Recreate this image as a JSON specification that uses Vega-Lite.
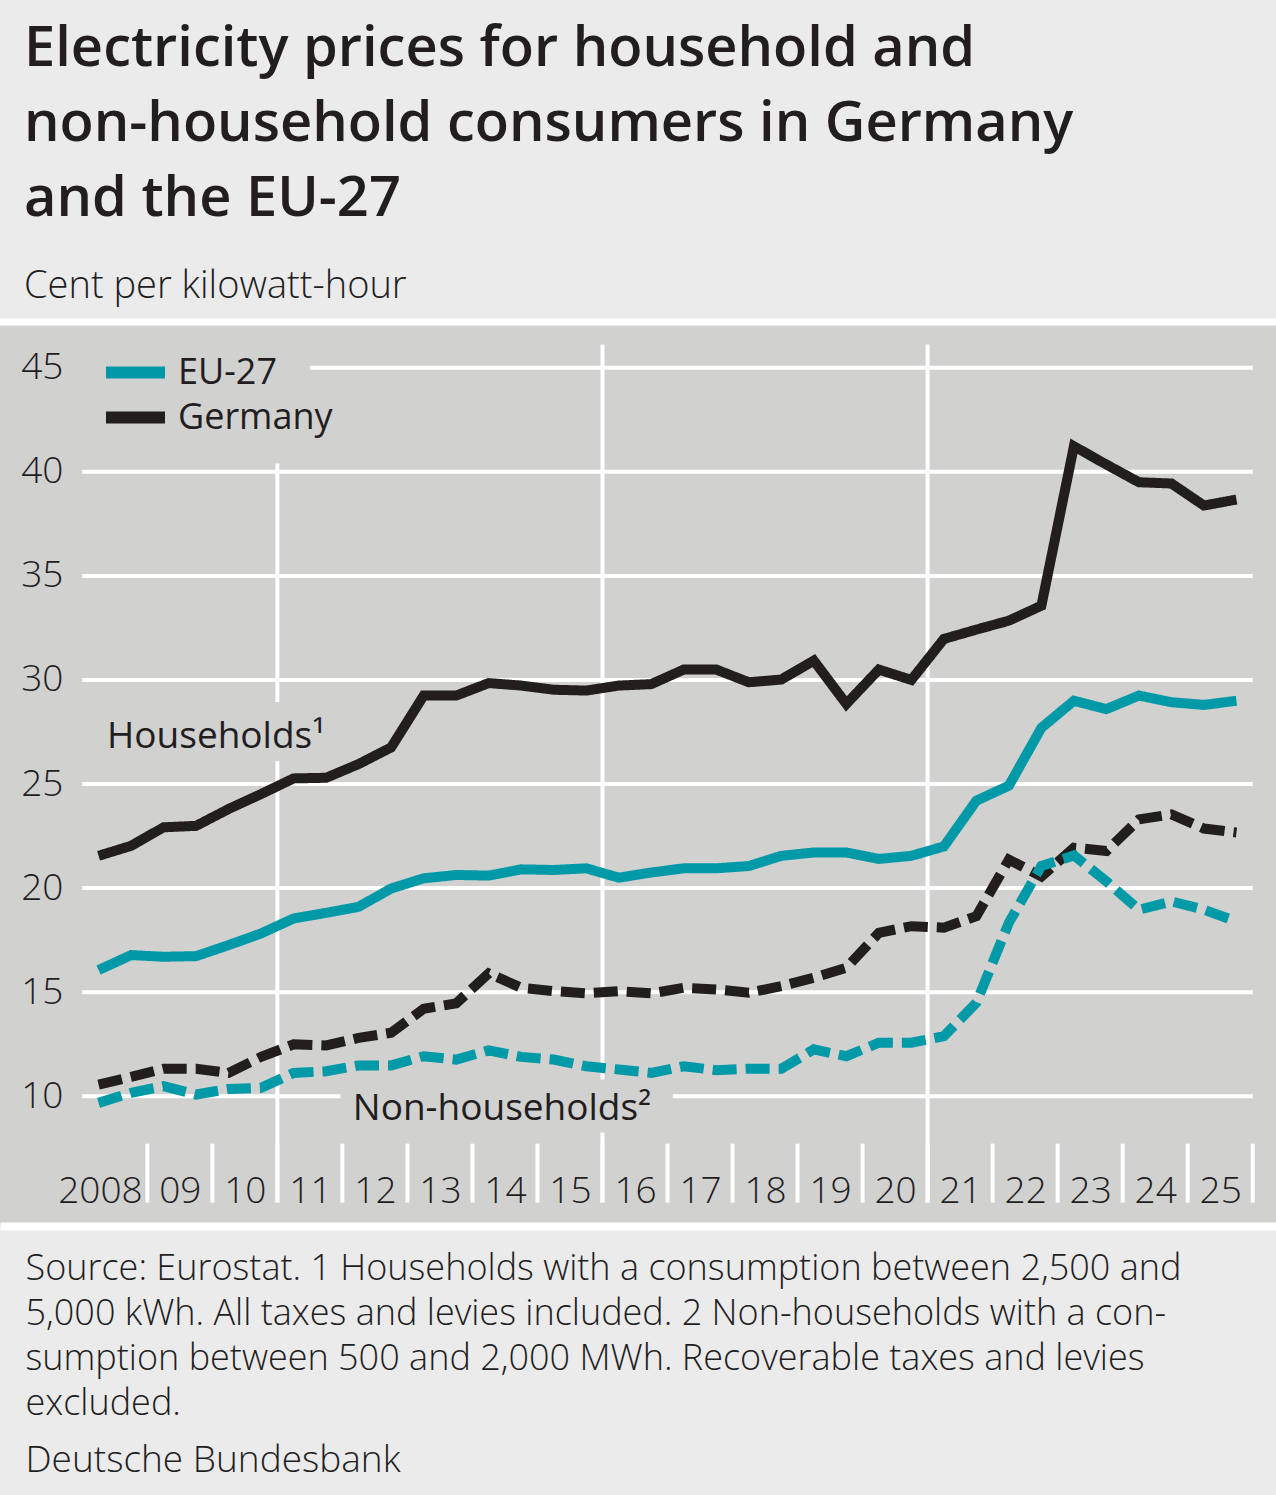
{
  "$schema": "https://vega.github.io/schema/vega-lite/v6.json",
  "width": 1276,
  "height": 904,
  "autosize": {"type": "none"},
  "padding": {"left": 0, "top": 322, "right": 0, "bottom": 269},
  "background": "#ebebeb",
  "config": {
    "view": {"fill": "#d1d1d0", "stroke": null},
    "font": "Open Sans"
  },
  "title": {
    "text": ["Electricity prices for household and", "non-household consumers in Germany", "and the EU-27"],
    "subtitle": "Cent per kilowatt-hour",
    "anchor": "start",
    "frame": "group",
    "dx": 24,
    "offset": 12,
    "fontSize": 56,
    "fontWeight": 600,
    "lineHeight": 75,
    "color": "#221e1f",
    "subtitleFontSize": 38,
    "subtitleFontWeight": 300,
    "subtitleColor": "#221e1f",
    "subtitlePadding": 40
  },
  "datasets": {
    "prices": [
      {"t": 2008.25, "region": "Germany", "Households": 21.55, "Non-households": 10.56},
      {"t": 2008.75, "region": "Germany", "Households": 22.03, "Non-households": 10.93},
      {"t": 2009.25, "region": "Germany", "Households": 22.92, "Non-households": 11.32},
      {"t": 2009.75, "region": "Germany", "Households": 22.99, "Non-households": 11.32},
      {"t": 2010.25, "region": "Germany", "Households": 23.8, "Non-households": 11.12},
      {"t": 2010.75, "region": "Germany", "Households": 24.52, "Non-households": 11.89},
      {"t": 2011.25, "region": "Germany", "Households": 25.27, "Non-households": 12.49},
      {"t": 2011.75, "region": "Germany", "Households": 25.3, "Non-households": 12.44},
      {"t": 2012.25, "region": "Germany", "Households": 25.96, "Non-households": 12.8},
      {"t": 2012.75, "region": "Germany", "Households": 26.76, "Non-households": 13.05},
      {"t": 2013.25, "region": "Germany", "Households": 29.25, "Non-households": 14.2},
      {"t": 2013.75, "region": "Germany", "Households": 29.25, "Non-households": 14.46},
      {"t": 2014.25, "region": "Germany", "Households": 29.85, "Non-households": 15.9},
      {"t": 2014.75, "region": "Germany", "Households": 29.73, "Non-households": 15.21},
      {"t": 2015.25, "region": "Germany", "Households": 29.53, "Non-households": 15.05},
      {"t": 2015.75, "region": "Germany", "Households": 29.49, "Non-households": 14.94},
      {"t": 2016.25, "region": "Germany", "Households": 29.73, "Non-households": 15.05},
      {"t": 2016.75, "region": "Germany", "Households": 29.8, "Non-households": 14.94},
      {"t": 2017.25, "region": "Germany", "Households": 30.5, "Non-households": 15.21},
      {"t": 2017.75, "region": "Germany", "Households": 30.5, "Non-households": 15.13},
      {"t": 2018.25, "region": "Germany", "Households": 29.89, "Non-households": 14.97},
      {"t": 2018.75, "region": "Germany", "Households": 30.02, "Non-households": 15.29},
      {"t": 2019.25, "region": "Germany", "Households": 30.93, "Non-households": 15.69},
      {"t": 2019.75, "region": "Germany", "Households": 28.85, "Non-households": 16.17},
      {"t": 2020.25, "region": "Germany", "Households": 30.5, "Non-households": 17.85},
      {"t": 2020.75, "region": "Germany", "Households": 30.0, "Non-households": 18.17},
      {"t": 2021.25, "region": "Germany", "Households": 31.97, "Non-households": 18.1},
      {"t": 2021.75, "region": "Germany", "Households": 32.42, "Non-households": 18.65},
      {"t": 2022.25, "region": "Germany", "Households": 32.85, "Non-households": 21.37},
      {"t": 2022.75, "region": "Germany", "Households": 33.57, "Non-households": 20.56},
      {"t": 2023.25, "region": "Germany", "Households": 41.23, "Non-households": 21.94},
      {"t": 2023.75, "region": "Germany", "Households": 40.35, "Non-households": 21.78},
      {"t": 2024.25, "region": "Germany", "Households": 39.5, "Non-households": 23.3},
      {"t": 2024.75, "region": "Germany", "Households": 39.44, "Non-households": 23.54},
      {"t": 2025.25, "region": "Germany", "Households": 38.38, "Non-households": 22.86},
      {"t": 2025.75, "region": "Germany", "Households": 38.67, "Non-households": 22.67},
      {"t": 2008.25, "region": "EU-27", "Households": 16.06, "Non-households": 9.68},
      {"t": 2008.75, "region": "EU-27", "Households": 16.78, "Non-households": 10.16},
      {"t": 2009.25, "region": "EU-27", "Households": 16.7, "Non-households": 10.48},
      {"t": 2009.75, "region": "EU-27", "Households": 16.73, "Non-households": 10.08},
      {"t": 2010.25, "region": "EU-27", "Households": 17.26, "Non-households": 10.35},
      {"t": 2010.75, "region": "EU-27", "Households": 17.82, "Non-households": 10.4},
      {"t": 2011.25, "region": "EU-27", "Households": 18.54, "Non-households": 11.12},
      {"t": 2011.75, "region": "EU-27", "Households": 18.81, "Non-households": 11.2},
      {"t": 2012.25, "region": "EU-27", "Households": 19.1, "Non-households": 11.48},
      {"t": 2012.75, "region": "EU-27", "Households": 19.98, "Non-households": 11.48},
      {"t": 2013.25, "region": "EU-27", "Households": 20.47, "Non-households": 11.92},
      {"t": 2013.75, "region": "EU-27", "Households": 20.63, "Non-households": 11.76},
      {"t": 2014.25, "region": "EU-27", "Households": 20.6, "Non-households": 12.2},
      {"t": 2014.75, "region": "EU-27", "Households": 20.9, "Non-households": 11.89},
      {"t": 2015.25, "region": "EU-27", "Households": 20.87, "Non-households": 11.76},
      {"t": 2015.75, "region": "EU-27", "Households": 20.95, "Non-households": 11.44},
      {"t": 2016.25, "region": "EU-27", "Households": 20.5, "Non-households": 11.28},
      {"t": 2016.75, "region": "EU-27", "Households": 20.75, "Non-households": 11.12},
      {"t": 2017.25, "region": "EU-27", "Households": 20.95, "Non-households": 11.44},
      {"t": 2017.75, "region": "EU-27", "Households": 20.95, "Non-households": 11.25},
      {"t": 2018.25, "region": "EU-27", "Households": 21.06, "Non-households": 11.32},
      {"t": 2018.75, "region": "EU-27", "Households": 21.55, "Non-households": 11.32},
      {"t": 2019.25, "region": "EU-27", "Households": 21.71, "Non-households": 12.25},
      {"t": 2019.75, "region": "EU-27", "Households": 21.71, "Non-households": 11.92},
      {"t": 2020.25, "region": "EU-27", "Households": 21.4, "Non-households": 12.57},
      {"t": 2020.75, "region": "EU-27", "Households": 21.55, "Non-households": 12.57},
      {"t": 2021.25, "region": "EU-27", "Households": 22.0, "Non-households": 12.88},
      {"t": 2021.75, "region": "EU-27", "Households": 24.2, "Non-households": 14.49},
      {"t": 2022.25, "region": "EU-27", "Households": 24.92, "Non-households": 18.34},
      {"t": 2022.75, "region": "EU-27", "Households": 27.7, "Non-households": 21.06},
      {"t": 2023.25, "region": "EU-27", "Households": 29.0, "Non-households": 21.57},
      {"t": 2023.75, "region": "EU-27", "Households": 28.6, "Non-households": 20.32},
      {"t": 2024.25, "region": "EU-27", "Households": 29.25, "Non-households": 18.96},
      {"t": 2024.75, "region": "EU-27", "Households": 28.93, "Non-households": 19.36},
      {"t": 2025.25, "region": "EU-27", "Households": 28.8, "Non-households": 18.96},
      {"t": 2025.75, "region": "EU-27", "Households": 29.0, "Non-households": 18.4}
    ],
    "grid": [{"v": 10}, {"v": 15}, {"v": 20}, {"v": 25}, {"v": 30}, {"v": 35}, {"v": 40}],
    "yearEnds": [
      {"year": 2009}, {"year": 2010}, {"year": 2011}, {"year": 2012}, {"year": 2013}, {"year": 2014},
      {"year": 2015}, {"year": 2016}, {"year": 2017}, {"year": 2018}, {"year": 2019}, {"year": 2020},
      {"year": 2021}, {"year": 2022}, {"year": 2023}, {"year": 2024}, {"year": 2025}, {"year": 2026}
    ]
  },
  "data": {"name": "prices"},
  "layer": [
    {
      "data": {"name": "grid"},
      "mark": {"type": "rule", "color": "white", "strokeWidth": 4},
      "encoding": {
        "y": {"field": "v", "type": "quantitative"},
        "x": {"datum": 2008, "type": "quantitative"},
        "x2": {"datum": 2026}
      }
    },
    {
      "data": {"values": [{"v": 45}]},
      "mark": {"type": "rule", "color": "white", "strokeWidth": 4},
      "encoding": {
        "y": {"field": "v", "type": "quantitative"},
        "x": {"datum": 2011.5, "type": "quantitative"},
        "x2": {"datum": 2026}
      }
    },
    {
      "data": {"values": [{"year": 2011}]},
      "mark": {"type": "rule", "color": "white", "strokeWidth": 4},
      "encoding": {
        "x": {"field": "year", "type": "quantitative"},
        "y": {"datum": 40.4, "type": "quantitative"},
        "y2": {"datum": 4.89}
      }
    },
    {
      "data": {"values": [{"year": 2016}, {"year": 2021}]},
      "mark": {"type": "rule", "color": "white", "strokeWidth": 4},
      "encoding": {
        "x": {"field": "year", "type": "quantitative"},
        "y": {"datum": 46.12, "type": "quantitative"},
        "y2": {"datum": 4.89}
      }
    },
    {
      "data": {"name": "yearEnds"},
      "mark": {"type": "rule", "color": "white", "strokeWidth": 4},
      "encoding": {
        "x": {"field": "year", "type": "quantitative"},
        "y": {"datum": 7.72, "type": "quantitative"},
        "y2": {"datum": 4.89}
      }
    },
    {
      "data": {"values": [{"label": "Households"}]},
      "mark": {"type": "rect", "color": "#d1d1d0"},
      "encoding": {
        "x": {"datum": 2008.28, "type": "quantitative"},
        "x2": {"datum": 2011.9},
        "y": {"datum": 26.1, "type": "quantitative"},
        "y2": {"datum": 28.94}
      }
    },
    {
      "data": {"values": [{"label": "Non-households"}]},
      "mark": {"type": "rect", "color": "#d1d1d0"},
      "encoding": {
        "x": {"datum": 2011.97, "type": "quantitative"},
        "x2": {"datum": 2017.08},
        "y": {"datum": 8.25, "type": "quantitative"},
        "y2": {"datum": 10.8}
      }
    },
    {
      "data": {"values": [{"edge": "top"}]},
      "mark": {"type": "rule", "color": "white", "strokeWidth": 7},
      "encoding": {
        "y": {"datum": 47.2, "type": "quantitative"}
      }
    },
    {
      "transform": [{"fold": ["Households", "Non-households"], "as": ["type", "price"]}],
      "mark": {"type": "line", "strokeWidth": 10, "strokeJoin": "miter", "strokeCap": "butt"},
      "encoding": {
        "x": {
          "field": "t",
          "type": "quantitative",
          "scale": {"domain": [2006.734, 2026.358], "nice": false, "zero": false},
          "axis": {
            "orient": "bottom",
            "values": [2008.27, 2009.5, 2010.5, 2011.5, 2012.5, 2013.5, 2014.5, 2015.5, 2016.5, 2017.5, 2018.5, 2019.5, 2020.5, 2021.5, 2022.5, 2023.5, 2024.5, 2025.5],
            "labelExpr": "datum.value < 2009 ? '2008' : format(floor(datum.value) % 100, '02d')",
            "domain": true,
            "domainColor": "white",
            "domainWidth": 8,
            "ticks": false,
            "grid": false,
            "labelPadding": -23.5,
            "labelBaseline": "alphabetic",
            "labelAlign": "center",
            "labelFontSize": 37,
            "labelFontWeight": 300,
            "labelColor": "#221e1f",
            "labelFlush": false,
            "labelOverlap": false,
            "labelBound": false,
            "title": [
              "Source: Eurostat. 1 Households with a consumption between 2,500 and",
              "5,000 kWh. All taxes and levies included. 2 Non-households with a con-",
              "sumption between 500 and 2,000 MWh. Recoverable taxes and levies",
              "excluded."
            ],
            "titleX": 25,
            "titleY": 53.5,
            "titleAlign": "left",
            "titleAnchor": "start",
            "titleBaseline": "alphabetic",
            "titleFontSize": 36,
            "titleFontWeight": 300,
            "titleLineHeight": 45,
            "titleColor": "#221e1f"
          }
        },
        "y": {
          "field": "price",
          "type": "quantitative",
          "scale": {"domain": [3.763, 47.2], "nice": false, "zero": false},
          "axis": {
            "orient": "left",
            "offset": -67,
            "values": [10, 15, 20, 25, 30, 35, 40, 45],
            "domain": false,
            "ticks": false,
            "grid": false,
            "labelPadding": 4,
            "labelFontSize": 37,
            "labelFontWeight": 300,
            "labelColor": "#221e1f",
            "labelBaseline": "middle",
            "labelFlush": false,
            "title": "Deutsche Bundesbank",
            "titleAngle": 0,
            "titleX": -42,
            "titleY": 1149,
            "titleAlign": "left",
            "titleBaseline": "alphabetic",
            "titleFontSize": 37,
            "titleFontWeight": 300,
            "titleColor": "#221e1f"
          }
        },
        "color": {
          "field": "region",
          "type": "nominal",
          "scale": {"domain": ["EU-27", "Germany"], "range": ["#0099a7", "#221e1d"]},
          "legend": {
            "orient": "none",
            "legendX": 100,
            "legendY": 28,
            "padding": 0,
            "title": null,
            "symbolType": "stroke",
            "symbolSize": 3481,
            "symbolStrokeWidth": 12,
            "labelFontSize": 36,
            "labelFontWeight": 500,
            "labelColor": "#221e1f",
            "labelOffset": 7,
            "clipHeight": 45,
            "rowPadding": 0
          }
        },
        "strokeDash": {
          "field": "type",
          "type": "nominal",
          "scale": {"domain": ["Households", "Non-households"], "range": [[1, 0], [24, 9]]},
          "legend": null
        }
      }
    },
    {
      "data": {"values": [{"label": "Households¹"}]},
      "mark": {"type": "text", "align": "left", "baseline": "alphabetic", "fontSize": 37, "fontWeight": 500, "color": "#221e1f"},
      "encoding": {
        "x": {"datum": 2008.38, "type": "quantitative"},
        "y": {"datum": 26.75, "type": "quantitative"},
        "text": {"field": "label"}
      }
    },
    {
      "data": {"values": [{"label": "Non-households²"}]},
      "mark": {"type": "text", "align": "left", "baseline": "alphabetic", "fontSize": 37, "fontWeight": 500, "color": "#221e1f"},
      "encoding": {
        "x": {"datum": 2012.16, "type": "quantitative"},
        "y": {"datum": 8.88, "type": "quantitative"},
        "text": {"field": "label"}
      }
    }
  ]
}
